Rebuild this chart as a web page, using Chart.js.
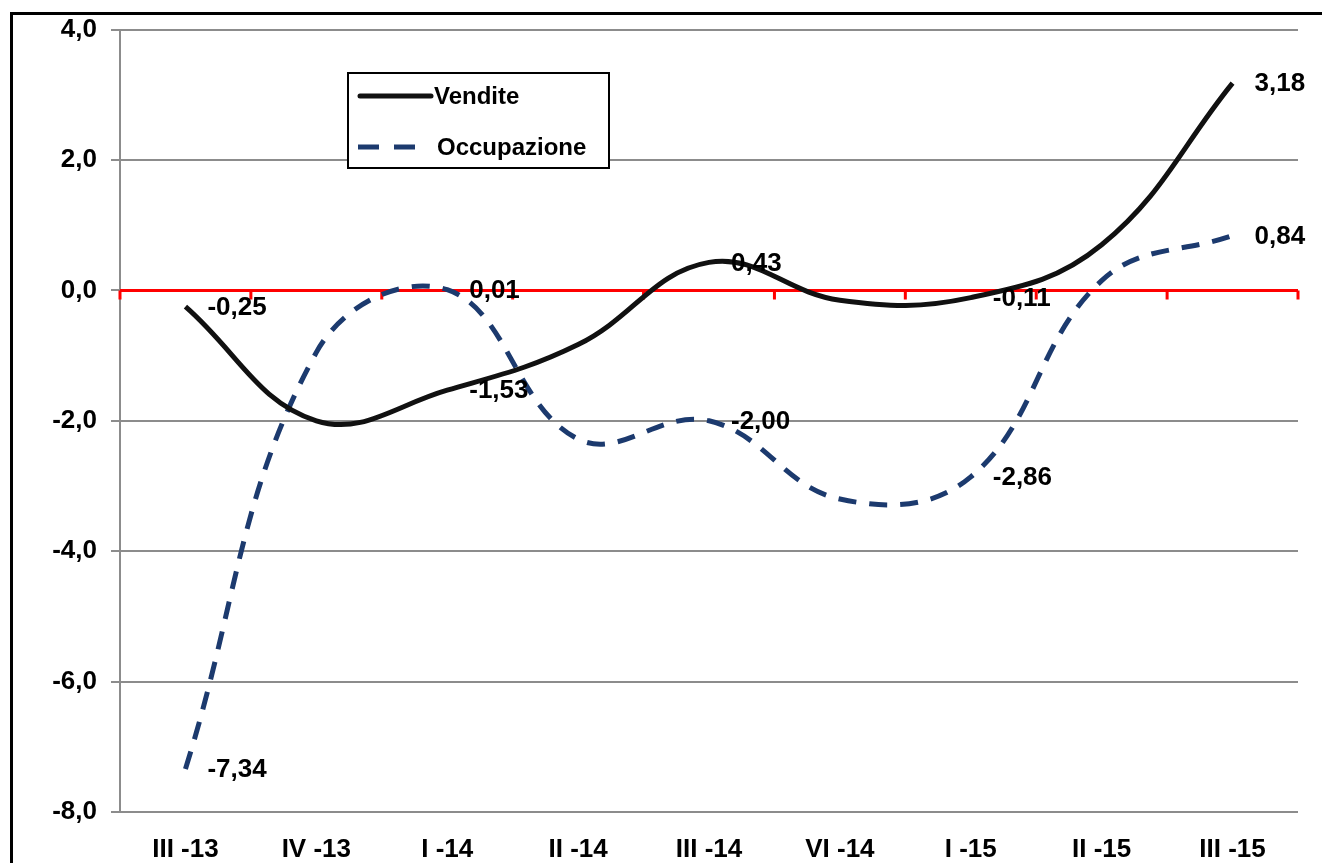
<!DOCTYPE html>
<html>
<head>
<meta charset="utf-8">
<script src="https://cdn.jsdelivr.net/npm/chart.js@4/dist/chart.umd.min.js"></script>
<style>
    body { margin: 0; background: #fff; }
    canvas { display: block; }
</style>
</head>
<body>
<canvas id="chart" width="1322" height="863"></canvas>
<script>
// data
const categories = ['III -13', 'IV -13', 'I -14', 'II -14', 'III -14', 'VI -14', 'I -15', 'II -15', 'III -15'];
const vendite = [-0.25, -2.0, -1.53, -0.83, 0.43, -0.15, -0.11, 0.7, 3.18];
const occupazione = [-7.34, -0.95, 0.01, -2.28, -2.00, -3.2, -2.86, 0.15, 0.84];
const labelIdx = [0, 2, 4, 6, 8]; // points that carry a value label
const yMin = -8, yMax = 4, yStep = 2;

const FONT = '"Liberation Sans", Arial, sans-serif';
const NAVY = '#1c3a6e';
const fmt = (v, d) => v.toFixed(d).replace('.', ',');

// outer frame, red zero line with boundary ticks, labels and legend
const decorations = {
    id: 'decorations',
    beforeDraw(chart) {
        const ctx = chart.ctx;
        ctx.save();
        ctx.strokeStyle = '#000';
        ctx.lineWidth = 3;
        ctx.strokeRect(11.5, 13.5, 1400, 1000);
        ctx.restore();
    },
    beforeDatasetsDraw(chart) {
        const { ctx, chartArea, scales: { x, y } } = chart;
        const y0 = y.getPixelForValue(0);
        const step = x.getPixelForValue(1) - x.getPixelForValue(0);
        ctx.save();
        ctx.strokeStyle = '#ff0000';
        ctx.lineWidth = 3;
        ctx.beginPath();
        ctx.moveTo(chartArea.left, y0);
        ctx.lineTo(chartArea.right, y0);
        for (let i = 0; i <= categories.length; i++) {
            const bx = x.getPixelForValue(0) - step / 2 + i * step;
            ctx.moveTo(bx, y0);
            ctx.lineTo(bx, y0 + 9);
        }
        ctx.stroke();
        ctx.restore();
    },
    afterDatasetsDraw(chart) {
        const ctx = chart.ctx;
        ctx.save();
        ctx.font = 'bold 26px ' + FONT;
        ctx.fillStyle = '#000';
        ctx.textBaseline = 'middle';
        ctx.textAlign = 'left';
        chart.data.datasets.forEach((ds, di) => {
            const meta = chart.getDatasetMeta(di);
            labelIdx.forEach(i => {
                const pt = meta.data[i];
                ctx.fillText(fmt(ds.data[i], 2), pt.x + 22, pt.y + 1);
            });
        });

        // legend box
        ctx.fillStyle = '#fff';
        ctx.fillRect(348, 73, 261, 95);
        ctx.strokeStyle = '#000';
        ctx.lineWidth = 2;
        ctx.strokeRect(348, 73, 261, 95);

        ctx.lineWidth = 5;
        ctx.lineCap = 'round';
        ctx.strokeStyle = '#111';
        ctx.beginPath();
        ctx.moveTo(360, 96);
        ctx.lineTo(431, 96);
        ctx.stroke();

        ctx.strokeStyle = NAVY;
        ctx.lineCap = 'butt';
        ctx.setLineDash([21, 15]);
        ctx.beginPath();
        ctx.moveTo(358, 147);
        ctx.lineTo(418, 147);
        ctx.stroke();
        ctx.setLineDash([]);

        ctx.fillStyle = '#000';
        ctx.font = 'bold 24px ' + FONT;
        ctx.fillText('Vendite', 434, 97);
        ctx.fillText('Occupazione', 437, 148);
        ctx.restore();
    }
};

new Chart(document.getElementById('chart'), {
    type: 'line',
    data: {
        labels: categories,
        datasets: [{
            label: 'Vendite',
            data: vendite,
            borderColor: '#111',
            borderWidth: 5,
            tension: 0.4,
            pointRadius: 0,
            fill: false
        }, {
            label: 'Occupazione',
            data: occupazione,
            borderColor: NAVY,
            borderWidth: 5,
            borderDash: [18, 13],
            tension: 0.4,
            pointRadius: 0,
            fill: false
        }]
    },
    options: {
        responsive: false,
        animation: false,
        layout: { padding: { top: 28, right: 24, left: 0, bottom: 0 } },
        plugins: {
            legend: { display: false },
            tooltip: { enabled: false }
        },
        scales: {
            x: {
                offset: true,
                grid: { display: false },
                border: { display: false },
                ticks: {
                    color: '#000',
                    font: { family: FONT, size: 26, weight: 'bold' },
                    padding: 14,
                    maxRotation: 0
                },
                afterFit(scale) { scale.height = 51; }
            },
            y: {
                min: yMin,
                max: yMax,
                grid: { color: '#8c8c8c', lineWidth: 2, tickLength: 9 },
                border: { color: '#8c8c8c', width: 2 },
                ticks: {
                    stepSize: yStep,
                    color: '#000',
                    font: { family: FONT, size: 26, weight: 'bold' },
                    padding: 14,
                    callback: v => fmt(v, 1)
                },
                afterFit(scale) { scale.width = 120; }
            }
        }
    },
    plugins: [decorations]
});
</script>
</body>
</html>
